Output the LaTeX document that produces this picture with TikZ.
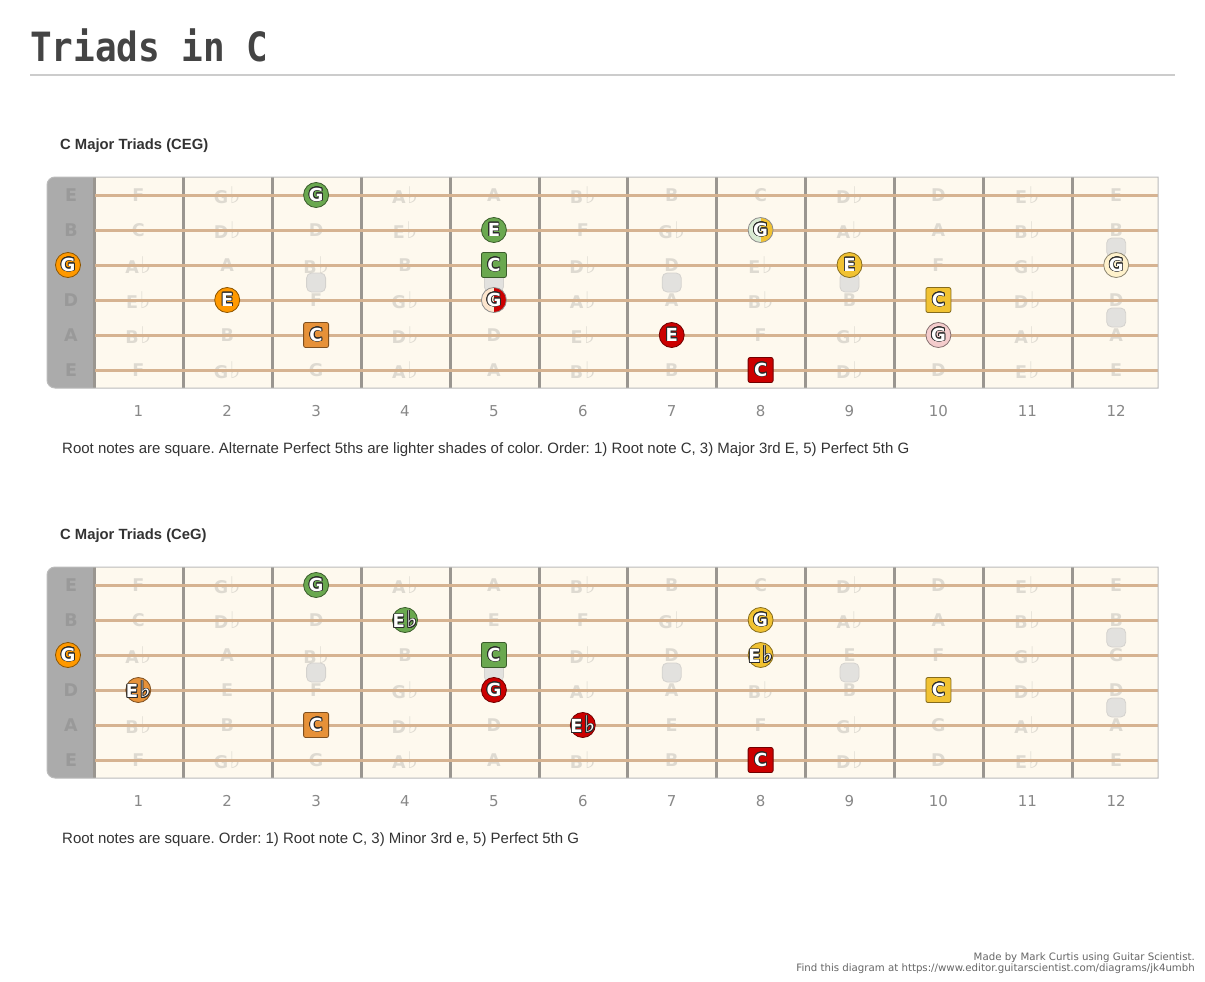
\documentclass[tikz,border=0pt]{standalone}
\usepackage{fontspec}
\setmainfont{Liberation Sans}
\newfontfamily\dejavu{DejaVu Sans}
\newfontfamily\dejamono{DejaVu Sans Mono}
\usepackage{xcolor}
\usepackage{contour}
\contourlength{0.8pt}
\contournumber{16}
\usepackage{tikz}
\usetikzlibrary{positioning}
\frenchspacing

\definecolor{boardfill}{HTML}{FEF9EE}
\definecolor{boardedge}{HTML}{BBBBBB}
\definecolor{nutgrey}{HTML}{ABABAB}
\definecolor{nuttext}{HTML}{999999}
\definecolor{stringtan}{HTML}{D6B391}
\definecolor{fretgrey}{HTML}{9A9690}
\definecolor{ghost}{HTML}{DEDAD1}
\definecolor{inlayfill}{HTML}{E2E1DE}
\definecolor{inlayedge}{HTML}{D4D2CE}
\definecolor{notetext}{HTML}{2A2A2A}
\definecolor{noteorange}{HTML}{FF9900}
\definecolor{notedorange}{HTML}{E69138}
\definecolor{notegreen}{HTML}{6AA84F}
\definecolor{notered}{HTML}{CC0000}
\definecolor{noteyellow}{HTML}{F1C232}
\definecolor{lightorange}{HTML}{FCE5CD}
\definecolor{lightgreen}{HTML}{D9EAD3}
\definecolor{lightred}{HTML}{F4CCCC}
\definecolor{lightyellow}{HTML}{FFF2CC}
\definecolor{titlegrey}{HTML}{444444}
\definecolor{textgrey}{HTML}{333333}
\definecolor{numgrey}{HTML}{888888}
\definecolor{footgrey}{HTML}{666666}

\newcommand\notefont{\dejavu\bfseries\fontsize{18}{18}\selectfont}
\newcommand\ghostfont{\dejavu\bfseries\fontsize{17.5}{17.5}\selectfont}
\newcommand\flt{\kern1.5pt{\mdseries\fontsize{23}{17}\selectfont ♭}}
\newcommand\nt[1]{\makebox[0pt]{\contour{notetext}{#1}}}

\tikzset{
  ghostnote/.style={font=\ghostfont, text=ghost, inner sep=0pt},
  nutlabel/.style={font=\ghostfont, text=nuttext, inner sep=0pt},
  inlay/.style={rectangle, rounded corners=5pt, minimum size=19pt, inner sep=0pt,
    fill=inlayfill, draw=inlayedge, line width=0.8pt},
  notec/.style={circle, minimum size=25pt, inner sep=0pt, fill=#1, draw=#1!55!black,
    line width=0.8pt, text=white, font=\notefont},
  noteroot/.style={rectangle, rounded corners=2pt, minimum size=25pt, inner sep=0pt, fill=#1,
    draw=#1!55!black, line width=0.8pt, text=white, font=\notefont},
  notehalf/.style 2 args={circle, minimum size=25pt, inner sep=0pt, draw=black!45,
    line width=0.8pt, text=white, font=\notefont,
    path picture={\fill[#1] (path picture bounding box.south west) rectangle (path picture bounding box.north);
                  \fill[#2] (path picture bounding box.north) rectangle (path picture bounding box.south east);}},
  fretnum/.style={font=\dejavu\fontsize{15}{15}\selectfont, text=numgrey, inner sep=0pt},
  boardtitle/.style={font=\bfseries\fontsize{14.8}{15}\selectfont, text=textgrey, anchor=west, inner sep=0pt},
  boardnote/.style={font=\fontsize{15}{15}\selectfont, text=textgrey, anchor=west, inner sep=0pt},
}

% one fretboard, #1 = name prefix
\newcommand\drawboard[1]{%
  \fill[boardfill] (95,0) rectangle (1158,211); %fingerboard
  \fill[nutgrey] (95,0) [rounded corners=8pt] -- (47,0) -- (47,211) [sharp corners] -- (95,211) -- cycle; %nut
  \foreach \f in {0,...,12}
    \foreach \s in {1,...,6}
      \coordinate (#1-\f-\s) at ({\f==0 ? 68 : 49.4+88.9*\f},{18+35*(\s-1)});
  \foreach \s/\row in {1/{F,G\flt,G,A\flt,A,B\flt,B,C,D\flt,D,E\flt,E},
                       2/{C,D\flt,D,E\flt,E,F,G\flt,G,A\flt,A,B\flt,B},
                       3/{A\flt,A,B\flt,B,C,D\flt,D,E\flt,E,F,G\flt,G},
                       4/{E\flt,E,F,G\flt,G,A\flt,A,B\flt,B,C,D\flt,D},
                       5/{B\flt,B,C,D\flt,D,E\flt,E,F,G\flt,G,A\flt,A},
                       6/{F,G\flt,G,A\flt,A,B\flt,B,C,D\flt,D,E\flt,E}}{
    \foreach \n [count=\f] in \row
      \node[ghostnote] (#1-n-\f-\s) at (#1-\f-\s) {\n};
  }
  \foreach \s/\n in {1/E,2/B,4/D,5/A,6/E}
    \node[nutlabel] (#1-nut-\s) at ([xshift=3pt]#1-0-\s) {\n}; %open strings
  \foreach \k in {0,...,11}
    \draw[fretgrey, line width=3pt] ({94.5+88.9*\k},0) -- ({94.5+88.9*\k},211); %frets
  \foreach \s in {1,...,6}
    \draw[stringtan, line width=3pt] (95,{18+35*(\s-1)}) -- (1158,{18+35*(\s-1)}); %strings
  \draw[boardedge, line width=1pt] (95,0) -- (1158,0) -- (1158,211) -- (95,211)
    [rounded corners=8pt] -- (47,211) -- (47,0) -- (95,0);
  \foreach \f in {3,5,7,9}
    \node[inlay] (#1-dot-\f) at ({49.4+88.9*\f},105.5) {};
  \node[inlay] (#1-dot-12a) at ({49.4+88.9*12},70.5) {};
  \node[inlay] (#1-dot-12b) at ({49.4+88.9*12},140.5) {};
  \foreach \f in {1,...,12}
    \node[fretnum] (#1-num-\f) at ({49.4+88.9*\f},234) {\f}; %fret numbers
}

\begin{document}
\begin{tikzpicture}[x=1pt,y=-1pt]
  \useasboundingbox (0,0) rectangle (1205,982);
  \fill[white] (0,0) rectangle (1205,982);

  \node[anchor=base west, font=\dejamono\bfseries\fontsize{36}{36}\selectfont, text=titlegrey,
        inner sep=0pt, yscale=1.12, transform shape] (title) at (30,62) {Triads in C};
  \draw[black!20, line width=1.5pt] (30,75) -- (1175,75);

  % major triads
  \begin{scope}[shift={(0,177)}]
    \node[boardtitle] (a-title) at (60,-31) {C Major Triads (CEG)};
    \drawboard{a}
    \node[notec=noteorange] (a-g0) at (a-0-3) {\nt{G}};
    \node[notec=noteorange] (a-e2) at (a-2-4) {\nt{E}};
    \node[noteroot=notedorange] (a-c3) at (a-3-5) {\nt{C}};
    \node[notec=notegreen] (a-g3) at (a-3-1) {\nt{G}};
    \node[notec=notegreen] (a-e5) at (a-5-2) {\nt{E}};
    \node[noteroot=notegreen] (a-c5) at (a-5-3) {\nt{C}};
    \node[notehalf={lightorange}{notered}] (a-g5) at (a-5-4) {\nt{G}};
    \node[notec=notered] (a-e7) at (a-7-5) {\nt{E}};
    \node[noteroot=notered] (a-c8) at (a-8-6) {\nt{C}};
    \node[notehalf={lightgreen}{noteyellow}] (a-g8) at (a-8-2) {\nt{G}};
    \node[notec=noteyellow] (a-e9) at (a-9-3) {\nt{E}};
    \node[noteroot=noteyellow] (a-c10) at (a-10-4) {\nt{C}};
    \node[notec=lightred] (a-g10) at (a-10-5) {\nt{G}};
    \node[notec=lightyellow] (a-g12) at (a-12-3) {\nt{G}};
    \node[boardnote] (a-note) at (62,273) {Root notes are square. Alternate Perfect 5ths are lighter shades of color. Order: 1) Root note C, 3) Major 3rd E, 5) Perfect 5th G};
  \end{scope}

  % minor third
  \begin{scope}[shift={(0,567)}]
    \node[boardtitle] (b-title) at (60,-31) {C Major Triads (CeG)};
    \drawboard{b}
    \node[notec=noteorange] (b-g0) at (b-0-3) {\nt{G}};
    \node[notec=notedorange] (b-e1) at (b-1-4) {\nt{E\flt}};
    \node[noteroot=notedorange] (b-c3) at (b-3-5) {\nt{C}};
    \node[notec=notegreen] (b-g3) at (b-3-1) {\nt{G}};
    \node[notec=notegreen] (b-e4) at (b-4-2) {\nt{E\flt}};
    \node[noteroot=notegreen] (b-c5) at (b-5-3) {\nt{C}};
    \node[notec=notered] (b-g5) at (b-5-4) {\nt{G}};
    \node[notec=notered] (b-e6) at (b-6-5) {\nt{E\flt}};
    \node[noteroot=notered] (b-c8) at (b-8-6) {\nt{C}};
    \node[notec=noteyellow] (b-g8) at (b-8-2) {\nt{G}};
    \node[notec=noteyellow] (b-e8) at (b-8-3) {\nt{E\flt}};
    \node[noteroot=noteyellow] (b-c10) at (b-10-4) {\nt{C}};
    \node[boardnote] (b-note) at (62,273) {Root notes are square. Order: 1) Root note C, 3) Minor 3rd e, 5) Perfect 5th G};
  \end{scope}

  \node[anchor=north east, align=right, font=\dejavu\fontsize{10.2}{11}\selectfont, text=footgrey,
        inner sep=0pt] (credit) at (1195,953)
        {Made by Mark Curtis using Guitar Scientist.\\Find this diagram at https://www.editor.guitarscientist.com/diagrams/jk4umbh};
\end{tikzpicture}
\end{document}
